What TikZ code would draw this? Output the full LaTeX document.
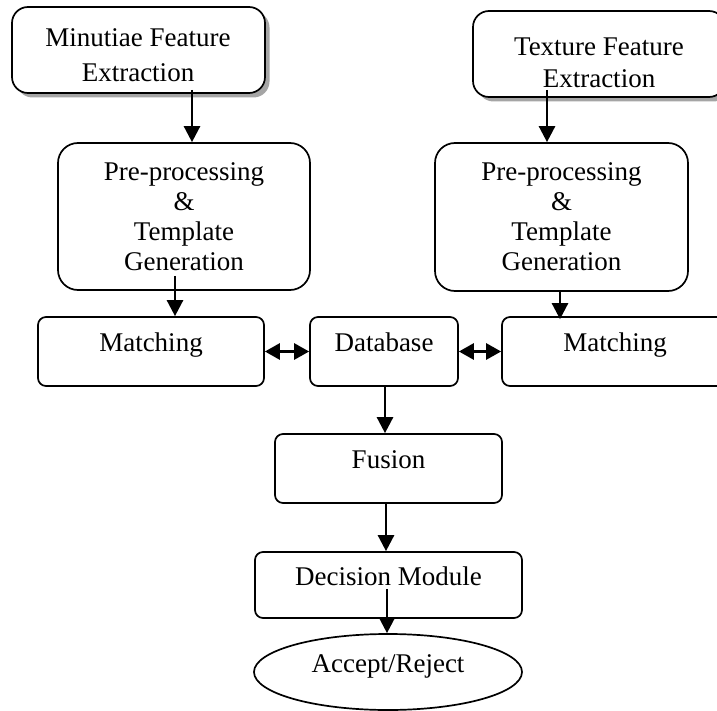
\documentclass[tikz,border=0pt]{standalone}
\usepackage{fontspec}
\setmainfont{Liberation Serif}
\usetikzlibrary{arrows.meta,shadows,calc,shapes.geometric}
\tikzset{
  box/.style={draw, line width=1.7pt, fill=white, rounded corners=8pt, inner sep=0pt,
    align=center, font=\fontsize{27}{30}\selectfont},
  onebox/.style={box, text height=20pt, text depth=20pt},
  topbox/.style={box, rounded corners=16pt,
    drop shadow={shadow xshift=4.5pt, shadow yshift=-4.5pt, fill=black!70}},
  prebox/.style={box, rounded corners=20pt},
  lbl/.style={align=center, inner sep=0pt},
  oval/.style={draw, line width=1.7pt, ellipse, inner sep=0pt,
    font=\fontsize{27}{30}\selectfont, text height=20pt, text depth=20pt},
  arr/.style={line width=2.6pt, -{Triangle[length=16pt,width=16pt]}},
  darr/.style={line width=2.8pt, {Triangle[length=15pt,width=16pt]}-{Triangle[length=15pt,width=16pt]}}
}
\begin{document}
\begin{tikzpicture}[x=1pt,y=-1pt]
\useasboundingbox (0,0) rectangle (717,711);
\clip (0,0) rectangle (717,711);

% top boxes
\node[topbox, minimum width=253pt, minimum height=86pt] (b1) at (138.5,50) {};
\node[lbl, font=\fontsize{27}{35}\selectfont] (t1) at (138,55) {Minutiae Feature\\Extraction};
\node[topbox, minimum width=252pt, minimum height=86pt] (b2) at (599,54) {};
\node[lbl, font=\fontsize{27}{32}\selectfont] (t2) at (599,63) {Texture Feature\\Extraction};

% pre-processing
\node[prebox, minimum width=252pt, minimum height=147pt] (pre1) at (184,216.5)
  {Pre-processing\\\&\\Template\\Generation};
\node[prebox, minimum width=253pt, minimum height=148pt] (pre2) at (561.5,217)
  {Pre-processing\\\&\\Template\\Generation};

% middle row
\node[onebox, minimum width=226pt, minimum height=69pt] (m1) at (151,351.5) {Matching};
\node[onebox, minimum width=148pt, minimum height=69pt] (db) at (384,351.5) {Database};
\node[onebox, minimum width=226pt, minimum height=69pt] (m2) at (615,351.5) {Matching};

% lower chain
\node[onebox, minimum width=227pt, minimum height=69pt] (fus) at (388.5,468.5) {Fusion};
\node[onebox, minimum width=267pt, minimum height=66pt] (dec) at (388.5,585) {Decision Module};
\node[oval, minimum width=268pt, minimum height=76pt] (acc) at (388,672) {Accept/Reject};

% connectors
\coordinate (s1) at ($(b1.south)+(53.5,-4)$);
\draw[arr] (s1) -- (s1 |- pre1.north);
\coordinate (s2) at ($(b2.south)+(-52,-8)$);
\draw[arr] (s2) -- (s2 |- pre2.north);
\coordinate (s3) at ($(pre1.south)+(-9,-15)$);
\draw[arr] (s3) -- (s3 |- m1.north);
\coordinate (s4) at ($(pre2.south)+(-1.5,0)$);
\coordinate (e4) at ($(s4 |- m2.north)+(0,3)$);
\draw[arr] (s4) -- (e4);
\draw[darr] (m1.east) -- (db.west);
\draw[darr] (db.east) -- (m2.west);
\coordinate (s5) at ($(db.south)+(1,0)$);
\draw[arr] (s5) -- (s5 |- fus.north);
\coordinate (s6) at ($(fus.south)+(-2.5,0)$);
\draw[arr] (s6) -- (s6 |- dec.north);
\coordinate (s7) at ($(dec.south)+(-1.5,-30)$);
\draw[arr] (s7) -- (s7 |- acc.north);
\end{tikzpicture}
\end{document}
